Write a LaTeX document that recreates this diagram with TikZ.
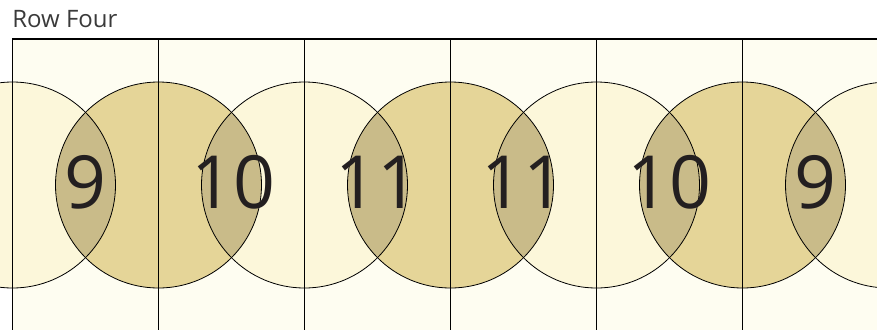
\documentclass[tikz,border=0pt]{standalone}
\usepackage{fontspec}
\setmainfont{Open Sans}
\usepackage{tikz}

\definecolor{cellbg}{HTML}{FEFDF1}
\definecolor{ringlight}{HTML}{FCF7DA}
\definecolor{ringdark}{HTML}{E5D598}
\definecolor{overlap}{HTML}{C9BB89}
\definecolor{digitcol}{HTML}{231F20}
\definecolor{titlecol}{HTML}{3A3A3A}

\begin{document}
\begin{tikzpicture}[x=0.75pt, y=-0.75pt,
    ring/.style={draw=black, line width=0.6pt},
    cellline/.style={draw=black, line width=0.9pt},
    num/.style={font=\fontsize{55}{60}\selectfont, text=digitcol, inner sep=0pt, anchor=base}]
  \useasboundingbox (0,0) rectangle (877,329);

  % title
  \node[font=\fontsize{18}{22}\selectfont, text=titlecol, inner sep=0pt, anchor=base west] (title) at (12,27) {Row Four};

  \begin{scope}
    \clip (0,0) rectangle (877,329);
    \fill[cellbg] (12.5,39) rectangle (900,340);

    % circles, light and dark in turn
    \foreach \i in {0,...,6} {
      \pgfmathsetmacro{\cx}{12.5+146*\i}
      \ifodd\i
        \fill[ringdark] (\cx,185) circle[radius=77.25pt];
      \else
        \fill[ringlight] (\cx,185) circle[radius=77.25pt];
      \fi
    }

    % overlaps of neighbouring circles
    \foreach \i in {0,...,5} {
      \pgfmathsetmacro{\cx}{12.5+146*\i}
      \pgfmathsetmacro{\nx}{158.5+146*\i}
      \begin{scope}
        \clip (\cx,185) circle[radius=77.25pt];
        \fill[overlap] (\nx,185) circle[radius=77.25pt];
      \end{scope}
    }

    \foreach \i in {0,...,6} {
      \pgfmathsetmacro{\cx}{12.5+146*\i}
      \draw[ring] (\cx,185) circle[radius=77.25pt];
    }

    % cells
    \draw[cellline] (12.5,340) -- (12.5,39) -- (900,39);
    \foreach \i in {1,...,5} {
      \pgfmathsetmacro{\cx}{12.5+146*\i}
      \draw[cellline] (\cx,39) -- (\cx,340);
    }
  \end{scope}

  % numbers
  \node[num] (n1) at (85.5,208) {9};
  \node[num] (n2) at (233,208) {10};
  \node[num] (n3) at (377.5,208) {11};
  \node[num] (n4) at (523.5,208) {11};
  \node[num] (n5) at (669,208) {10};
  \node[num] (n6) at (815.5,208) {9};
\end{tikzpicture}
\end{document}
